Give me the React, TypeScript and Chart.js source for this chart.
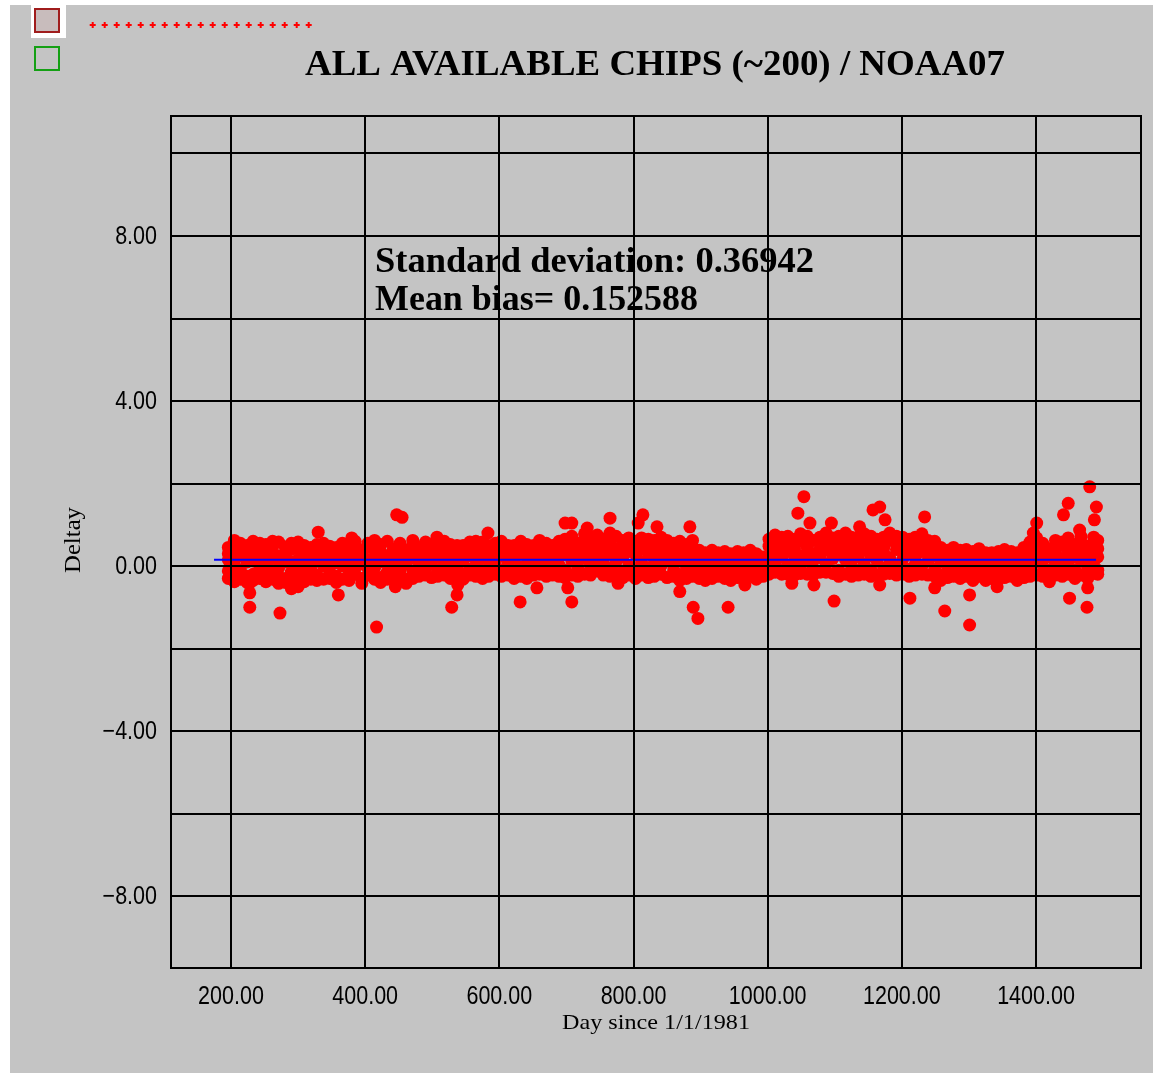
import React, { useEffect, useRef } from "react";
import { Chart, registerables } from "chart.js";

Chart.register(...registerables);

const W = 1153;
const H = 1076;

const chartTitle = "ALL AVAILABLE CHIPS (~200) / NOAA07";
const xAxisTitle = "Day since 1/1/1981";
const yAxisTitle = "Deltay";
const stdDev = 0.36942;
const meanBias = 0.152588;

const xTickValues = [200, 400, 600, 800, 1000, 1200, 1400];
const yGridValues = [-8, -6, -4, -2, 0, 2, 4, 6, 8, 10];
const yLabelledValues = [-8, -4, 0, 4, 8];
const xRange = [110.56, 1556.5];
const yRange = [-9.745, 10.909];
const meanLineDays = [174.7, 1489.5];

// Each row: day, then the deltas of the chips measured around that day
const chips1981: number[][] = [
  [196, 0.45, 0.15, -0.12, -0.3, 0.3],
  [205, 0.62, 0.35, 0.05, -0.22, -0.38],
  [214, 0.55, 0.25, -0.1, -0.32, 0.42],
  [224, 0.5, 0.1, -0.25, 0.3, -0.4],
  [233, 0.6, 0.38, 0.12, -0.2, -0.35],
  [243, 0.45, -0.08, 0.22, -0.3, 0.55],
  [252, 0.35, 0.05, -0.25, 0.52, -0.38],
  [262, 0.48, 0.18, -0.12, -0.32, 0.6],
  [271, 0.58, -0.05, 0.25, -0.25, -0.42],
  [281, 0.46, 0.1, -0.3, 0.32, -0.4],
  [290, 0.55, -0.15, 0.4, 0.1, -0.35],
  [300, 0.44, 0.15, -0.28, -0.05, 0.58],
  [309, 0.5, 0.25, -0.2, 0.02, -0.38],
  [319, 0.35, -0.08, 0.45, -0.32, 0.15],
  [328, 0.52, 0.12, -0.22, 0.3, -0.35],
  [338, 0.4, 0.0, -0.32, 0.22, 0.55],
  [347, 0.48, 0.25, -0.12, -0.3, 0.05],
  [357, 0.3, 0.08, -0.25, 0.45, -0.4],
  [366, 0.55, 0.18, -0.32, 0.0, 0.35],
  [376, 0.32, -0.1, 0.5, 0.12, -0.35],
  [385, 0.6, 0.22, -0.2, -0.05, 0.4],
  [395, 0.38, 0.05, -0.3, 0.25, -0.42],
  [404, 0.55, 0.15, -0.22, 0.45, -0.05],
  [414, 0.45, -0.05, 0.22, -0.32, 0.62],
  [423, 0.35, 0.1, -0.28, 0.52, -0.4],
  [433, 0.6, 0.25, -0.15, -0.32, 0.05],
  [442, 0.3, 0.0, -0.3, 0.42, 0.15],
  [452, 0.55, 0.18, -0.1, -0.28, 0.35],
  [461, 0.38, 0.05, -0.32, 0.25, -0.42],
  [471, 0.5, -0.12, 0.2, -0.3, 0.62],
  [480, 0.32, 0.1, -0.25, 0.45, -0.05],
  [490, 0.58, 0.25, -0.05, -0.22, 0.4],
  [499, 0.38, 0.05, -0.28, 0.52, 0.15],
];

const chips1982: number[][] = [
  [508, 0.55, 0.22, -0.1, -0.25, 0.4],
  [518, 0.45, 0.05, -0.22, 0.32, 0.6],
  [527, 0.38, 0.15, -0.15, 0.52, -0.3],
  [537, 0.5, -0.05, 0.28, -0.22, 0.1],
  [546, 0.32, 0.12, -0.2, 0.5, -0.32],
  [556, 0.58, 0.25, -0.08, -0.22, 0.4],
  [565, 0.4, 0.02, -0.25, 0.3, 0.6],
  [575, 0.48, 0.18, -0.12, 0.58, -0.3],
  [584, 0.35, -0.05, 0.22, -0.25, 0.5],
  [594, 0.55, 0.1, -0.2, 0.38, -0.05],
  [603, 0.45, 0.25, -0.1, -0.25, 0.6],
  [613, 0.38, 0.05, -0.22, 0.5, 0.15],
  [622, 0.5, 0.18, -0.15, 0.32, -0.3],
  [632, 0.3, -0.02, -0.25, 0.45, 0.6],
  [641, 0.52, 0.22, -0.1, 0.0, -0.3],
  [651, 0.38, 0.08, -0.22, 0.5, 0.25],
  [660, 0.45, -0.05, 0.25, -0.2, 0.62],
  [670, 0.32, 0.12, -0.25, 0.55, -0.05],
  [679, 0.5, 0.2, -0.08, -0.22, 0.35],
  [689, 0.42, 0.02, -0.25, 0.6, 0.2],
  [698, 0.65, 0.28, -0.1, 0.45, -0.28],
  [708, 0.5, 0.12, -0.22, 0.72, 0.3],
  [717, 0.55, 0.32, -0.05, -0.25, 0.15],
  [727, 0.62, 0.18, -0.2, 0.42, 0.78],
  [736, 0.7, 0.25, 0.0, -0.22, 0.45],
  [746, 0.55, 0.38, -0.12, 0.1, 0.75],
  [755, 0.65, 0.15, -0.22, 0.45, 0.02],
  [765, 0.58, 0.3, -0.05, -0.25, 0.8],
  [774, 0.72, 0.42, 0.1, -0.2, 0.25],
  [784, 0.52, 0.22, -0.15, 0.62, -0.28],
  [793, 0.68, 0.35, 0.0, -0.22, 0.5],
];

const chips1983: number[][] = [
  [803, 0.6, 0.28, -0.12, 0.42, -0.3],
  [812, 0.68, 0.1, -0.22, 0.4, 0.02],
  [822, 0.52, 0.32, -0.05, -0.28, 0.65],
  [831, 0.62, 0.15, -0.25, 0.45, 0.0],
  [841, 0.58, 0.3, 0.0, -0.2, 0.7],
  [850, 0.48, 0.12, -0.28, 0.62, 0.25],
  [860, 0.55, 0.32, -0.1, -0.25, 0.05],
  [869, 0.42, 0.15, -0.22, 0.6, -0.35],
  [879, 0.52, 0.25, -0.05, -0.3, 0.1],
  [888, 0.45, 0.05, -0.25, 0.62, 0.3],
  [898, 0.38, 0.15, -0.12, -0.3, 0.0],
  [907, 0.32, 0.02, -0.22, 0.2, -0.35],
  [917, 0.28, -0.1, 0.12, -0.3, 0.38],
  [926, 0.32, 0.08, -0.25, 0.22, -0.05],
  [936, 0.25, -0.05, 0.35, -0.3, 0.12],
  [945, 0.3, 0.1, -0.2, 0.0, -0.35],
  [955, 0.35, -0.12, 0.15, -0.28, 0.05],
  [964, 0.22, 0.05, -0.25, 0.32, -0.1],
  [974, 0.28, -0.05, 0.12, -0.25, 0.38],
  [983, 0.18, 0.0, -0.2, 0.3, -0.32],
  [993, 0.22, -0.1, 0.1, -0.25, 0.0],
  [1002, 0.48, 0.2, -0.08, 0.65, -0.2],
  [1011, 0.58, 0.32, 0.05, -0.15, 0.75],
  [1021, 0.7, 0.22, -0.1, 0.45, -0.2],
  [1030, 0.52, 0.35, 0.02, -0.2, 0.72],
  [1040, 0.65, 0.15, -0.12, 0.42, -0.22],
  [1049, 0.6, 0.25, 0.0, -0.18, 0.78],
  [1059, 0.45, 0.72, 0.12, -0.2, 0.3],
  [1068, 0.62, 0.3, -0.05, 0.15, -0.22],
  [1078, 0.55, 0.2, -0.15, 0.7, 0.4],
  [1087, 0.65, 0.38, 0.05, -0.15, 0.8],
  [1097, 0.5, 0.18, -0.18, 0.68, 0.3],
];

const chips1984: number[][] = [
  [1106, 0.58, 0.3, -0.1, 0.72, -0.25],
  [1116, 0.65, 0.15, -0.2, 0.42, 0.8],
  [1125, 0.52, 0.32, 0.0, -0.25, 0.7],
  [1135, 0.7, 0.22, -0.12, 0.48, -0.22],
  [1144, 0.6, 0.38, 0.05, -0.2, 0.78],
  [1154, 0.72, 0.25, -0.1, 0.5, -0.25],
  [1163, 0.58, 0.12, -0.22, 0.65, 0.35],
  [1173, 0.7, 0.32, -0.05, 0.45, -0.2],
  [1182, 0.62, 0.2, -0.18, 0.05, 0.8],
  [1192, 0.72, 0.4, 0.0, -0.22, 0.55],
  [1201, 0.58, 0.15, -0.2, 0.7, 0.35],
  [1211, 0.65, 0.32, -0.08, 0.45, -0.25],
  [1220, 0.7, 0.22, -0.22, 0.52, 0.05],
  [1230, 0.58, 0.35, 0.0, -0.2, 0.78],
  [1239, 0.5, 0.12, -0.22, 0.32, 0.62],
  [1249, 0.6, 0.25, -0.08, -0.25, 0.42],
  [1258, 0.45, 0.1, -0.22, 0.32, -0.35],
  [1268, 0.38, 0.18, -0.12, -0.28, 0.05],
  [1277, 0.32, 0.02, -0.25, 0.2, 0.45],
  [1287, 0.38, 0.12, -0.15, -0.3, 0.25],
  [1296, 0.28, -0.05, 0.15, -0.25, 0.4],
  [1306, 0.35, 0.1, -0.28, 0.0, -0.35],
  [1315, 0.3, -0.08, 0.2, -0.25, 0.42],
  [1325, 0.22, 0.05, -0.22, 0.32, -0.35],
  [1334, 0.32, -0.1, 0.15, -0.3, 0.05],
  [1344, 0.25, 0.0, -0.22, 0.35, -0.32],
  [1353, 0.3, 0.1, -0.15, -0.28, 0.4],
  [1363, 0.35, -0.05, 0.2, -0.25, 0.05],
  [1372, 0.32, 0.1, -0.22, 0.0, -0.35],
  [1382, 0.45, 0.15, -0.12, -0.28, 0.3],
  [1391, 0.58, 0.25, -0.05, 0.4, -0.25],
  [1401, 0.5, 0.1, -0.22, 0.32, 0.68],
  [1410, 0.38, 0.12, -0.15, -0.25, 0.55],
  [1420, 0.42, 0.22, -0.1, 0.3, -0.28],
  [1429, 0.32, 0.05, -0.22, 0.48, 0.62],
  [1439, 0.5, 0.18, -0.12, 0.58, -0.25],
  [1448, 0.38, 0.02, -0.2, 0.25, 0.68],
  [1458, 0.52, 0.22, -0.1, 0.42, -0.3],
  [1467, 0.4, 0.12, -0.22, 0.58, 0.72],
  [1477, 0.48, 0.25, -0.05, 0.32, -0.3],
  [1486, 0.55, 0.1, -0.18, 0.38, 0.7],
  [1492, 0.42, 0.22, -0.1, 0.62, -0.2],
];

// Isolated chips: [day, delta]
const outlierChips: number[][] = [
  [330, 0.82], [380, 0.68], [447, 1.24], [455, 1.18], [507, 0.7], [583, 0.8],
  [698, 1.04], [708, 1.04], [731, 0.92], [765, 1.16], [807, 1.04], [814, 1.24],
  [835, 0.95], [884, 0.95], [1045, 1.28], [1054, 1.68], [1063, 1.04], [1095, 1.04],
  [1137, 0.95], [1157, 1.36], [1167, 1.43], [1175, 1.12], [1234, 1.19], [1396, 0.8],
  [1401, 1.04], [1441, 1.24], [1448, 1.52], [1465, 0.87], [1480, 1.92], [1487, 1.12],
  [1490, 1.43],
  [228, -0.41], [228, -0.65], [228, -1.0], [273, -1.14], [290, -0.55], [300, -0.5],
  [360, -0.7], [417, -1.48], [445, -0.5], [529, -1.0], [537, -0.7], [538, -0.46],
  [631, -0.87], [656, -0.53], [702, -0.53], [708, -0.87], [777, -0.42], [869, -0.62],
  [889, -1.0], [896, -1.27], [941, -1.0], [966, -0.46], [1036, -0.42], [1069, -0.46],
  [1099, -0.85], [1167, -0.46], [1212, -0.78], [1249, -0.53], [1264, -1.09],
  [1301, -0.7], [1301, -1.43], [1342, -0.5], [1420, -0.38], [1450, -0.78],
  [1476, -1.0], [1477, -0.53],
];

function rowsToPoints(rows: number[][]) {
  const pts: { x: number; y: number }[] = [];
  rows.forEach((row) => {
    const day = row[0];
    for (let i = 1; i < row.length; i++) pts.push({ x: day, y: row[i] });
  });
  return pts;
}

function fittedText(
  ctx: CanvasRenderingContext2D,
  text: string,
  x: number,
  y: number,
  width: number,
  font: string,
  align: CanvasTextAlign
) {
  ctx.save();
  ctx.font = font;
  ctx.textAlign = align;
  ctx.textBaseline = "alphabetic";
  const w = ctx.measureText(text).width;
  ctx.translate(x, y);
  ctx.scale(width / w, 1);
  ctx.fillText(text, 0, 0);
  ctx.restore();
}

function narrowText(
  ctx: CanvasRenderingContext2D,
  text: string,
  x: number,
  y: number,
  align: CanvasTextAlign
) {
  ctx.save();
  ctx.font = "25px 'Liberation Sans', Arial, sans-serif";
  ctx.textAlign = align;
  ctx.textBaseline = "alphabetic";
  ctx.translate(x, y);
  ctx.scale(0.86, 1);
  ctx.fillText(text, 0, 0);
  ctx.restore();
}

function formatTick(v: number) {
  return v < 0 ? "\u2212" + Math.abs(v).toFixed(2) : v.toFixed(2);
}

const decorPlugin = {
  id: "decor",
  beforeDraw(chart: any) {
    const ctx: CanvasRenderingContext2D = chart.ctx;
    ctx.save();
    ctx.fillStyle = "#ffffff";
    ctx.fillRect(0, 0, W, H);
    ctx.fillStyle = "#c4c4c4";
    ctx.fillRect(10, 5, W - 10, H - 8);
    // legend swatches
    ctx.fillStyle = "#ffffff";
    ctx.fillRect(31, 0, 35, 38);
    ctx.fillStyle = "#c8bcbc";
    ctx.fillRect(35, 9, 24, 23);
    ctx.lineWidth = 2;
    ctx.strokeStyle = "#a01c1c";
    ctx.strokeRect(35, 9, 24, 23);
    ctx.strokeStyle = "#14a014";
    ctx.strokeRect(35, 47, 24, 23);
    // dotted red legend line
    ctx.strokeStyle = "#ff0000";
    ctx.lineWidth = 2;
    for (let i = 0; i < 19; i++) {
      const cx = 92.7 + i * 12;
      ctx.beginPath();
      ctx.moveTo(cx - 3, 25);
      ctx.lineTo(cx + 3, 25);
      ctx.moveTo(cx, 22);
      ctx.lineTo(cx, 28);
      ctx.stroke();
    }
    ctx.restore();
  },
  afterDraw(chart: any) {
    const ctx: CanvasRenderingContext2D = chart.ctx;
    const a = chart.chartArea;
    const xs = chart.scales.x;
    const ys = chart.scales.y;
    ctx.save();
    ctx.strokeStyle = "#000000";
    ctx.lineWidth = 2;
    ctx.strokeRect(a.left, a.top, a.right - a.left, a.bottom - a.top);
    ctx.fillStyle = "#000000";
    // tick labels at the axes' own tick positions
    xs.ticks.forEach((t: any) => {
      narrowText(ctx, formatTick(t.value), xs.getPixelForValue(t.value), a.bottom + 36, "center");
    });
    ys.ticks.forEach((t: any) => {
      if (!yLabelledValues.includes(t.value)) return;
      narrowText(ctx, formatTick(t.value), a.left - 14, ys.getPixelForValue(t.value) + 8, "right");
    });
    fittedText(ctx, chartTitle, 655, 75, 700, "bold 36px 'Liberation Serif', serif", "center");
    fittedText(ctx, "Standard deviation: " + stdDev, 375, 272, 439, "bold 36px 'Liberation Serif', serif", "left");
    fittedText(ctx, "Mean bias= " + meanBias, 375, 310, 323, "bold 36px 'Liberation Serif', serif", "left");
    fittedText(ctx, xAxisTitle, 656, 1029, 188, "22px 'Liberation Serif', serif", "center");
    ctx.save();
    ctx.translate(80, 540);
    ctx.rotate(-Math.PI / 2);
    fittedText(ctx, yAxisTitle, 0, 0, 66, "23px 'Liberation Serif', serif", "center");
    ctx.restore();
    ctx.restore();
  },
};

export default function App() {
  const canvasRef = useRef<HTMLCanvasElement | null>(null);

  useEffect(() => {
    document.body.style.margin = "0";
    const canvas = canvasRef.current;
    if (!canvas) return;
    const chipPoints = [
      ...rowsToPoints(chips1981),
      ...rowsToPoints(chips1982),
      ...rowsToPoints(chips1983),
      ...rowsToPoints(chips1984),
      ...outlierChips.map((p) => ({ x: p[0], y: p[1] })),
    ];
    const chart = new Chart(canvas, {
      type: "scatter",
      data: {
        datasets: [
          {
            type: "line",
            label: "Mean bias",
            data: meanLineDays.map((d) => ({ x: d, y: meanBias })),
            borderColor: "#0000ff",
            borderWidth: 2,
            pointRadius: 0,
            fill: false,
          } as any,
          {
            label: "Deltay",
            data: chipPoints,
            backgroundColor: "#ff0000",
            borderWidth: 0,
            pointRadius: 6.5,
          },
        ],
      },
      options: {
        animation: false,
        responsive: false,
        devicePixelRatio: 1,
        layout: { padding: { left: 0, top: 116, right: 12, bottom: 0 } },
        plugins: { legend: { display: false }, title: { display: false }, tooltip: { enabled: false } },
        scales: {
          x: {
            type: "linear",
            min: xRange[0],
            max: xRange[1],
            afterBuildTicks: (scale: any) => {
              scale.ticks = xTickValues.map((v) => ({ value: v }));
            },
            afterFit: (scale: any) => {
              scale.height = 108;
            },
            grid: { color: "#000000", lineWidth: 2, drawTicks: false, z: 1 },
            border: { display: false },
            ticks: { display: false, autoSkip: false },
          },
          y: {
            type: "linear",
            min: yRange[0],
            max: yRange[1],
            afterBuildTicks: (scale: any) => {
              scale.ticks = yGridValues.map((v) => ({ value: v }));
            },
            afterFit: (scale: any) => {
              scale.width = 171;
            },
            grid: { color: "#000000", lineWidth: 2, drawTicks: false, z: 1 },
            border: { display: false },
            ticks: { display: false, autoSkip: false },
          },
        },
      },
      plugins: [decorPlugin],
    });
    return () => chart.destroy();
  }, []);

  return (
    <div style={{ position: "absolute", left: 0, top: 0 }}>
      <canvas ref={canvasRef} width={W} height={H} style={{ display: "block", width: W, height: H }} />
    </div>
  );
}
